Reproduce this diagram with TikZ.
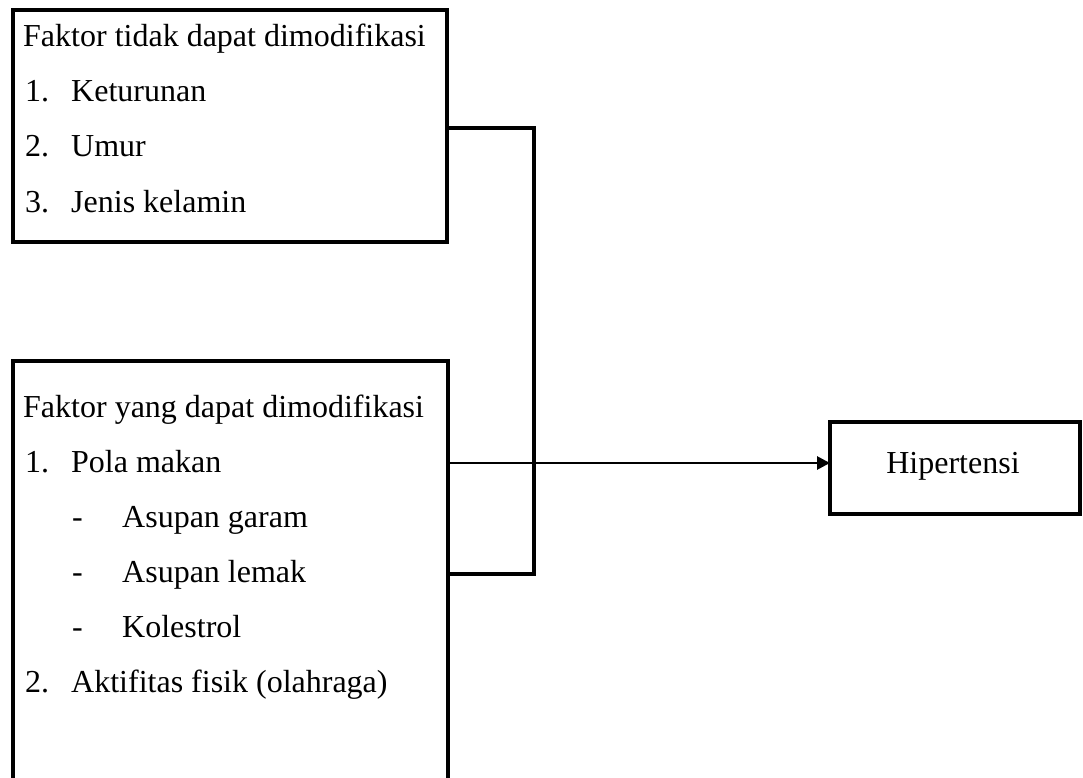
\documentclass[tikz,border=0pt]{standalone}
\usepackage{fontspec}
\setmainfont{Liberation Serif}[Ligatures=NoCommon]
\usetikzlibrary{arrows.meta}
\begin{document}
\begin{tikzpicture}[x=1pt,y=-1pt,
  box/.style={draw=black,line width=4pt,inner sep=0pt,outer sep=0pt},
  txt/.style={anchor=base west,inner sep=0pt,font=\fontsize{32}{38}\selectfont},
  conn/.style={draw=black,line width=3.7pt,line cap=rect},
  arr/.style={draw=black,line width=2.7pt,-{Triangle[length=13pt,width=13pt]}}]
\clip (0,0) rectangle (1083,778);
\fill[white] (0,0) rectangle (1083,778);
% boxes
\node[box,minimum width=434pt,minimum height=232pt] (tb) at (230,126) {};
\node[box,minimum width=435pt,minimum height=460pt] (bb) at (230.5,591) {};
\node[box,minimum width=250pt,minimum height=92pt] (hip) at (955,468) {};
% texts, top box
\node[txt] (t0) at (23,47) {Faktor tidak dapat dimodifikasi};
\node[txt] (t1n) at (25,102) {1.};
\node[txt] (t1) at (71,102) {Keturunan};
\node[txt] (t2n) at (25,157) {2.};
\node[txt] (t2) at (71,157) {Umur};
\node[txt] (t3n) at (25,212) {3.};
\node[txt] (t3) at (71,212) {Jenis kelamin};
% texts, bottom box
\node[txt] (b0) at (23,417) {Faktor yang dapat dimodifikasi};
\node[txt] (b1n) at (25,472) {1.};
\node[txt] (b1) at (71,472) {Pola makan};
\node[txt] (b2n) at (72,527) {-};
\node[txt] (b2) at (122,527) {Asupan garam};
\node[txt] (b3n) at (72,582) {-};
\node[txt] (b3) at (122,582) {Asupan lemak};
\node[txt] (b4n) at (72,637) {-};
\node[txt] (b4) at (122,637) {Kolestrol};
\node[txt] (b5n) at (25,692) {2.};
\node[txt] (b5) at (71,692) {Aktifitas fisik (olahraga)};
% Hipertensi text
\node[anchor=base,inner sep=0pt,font=\fontsize{32}{38}\selectfont] (hipt) at (953,473) {Hipertensi};
% connectors
\coordinate (j1) at (534,128);
\coordinate (j2) at (534,574);
\coordinate (ay) at (0,463);
\draw[conn] (tb.east |- j1) -- (j1) -- (j2) -- (bb.east |- j2);
\draw[arr] (bb.east |- ay) -- (hip.west |- ay);
\end{tikzpicture}
\end{document}
